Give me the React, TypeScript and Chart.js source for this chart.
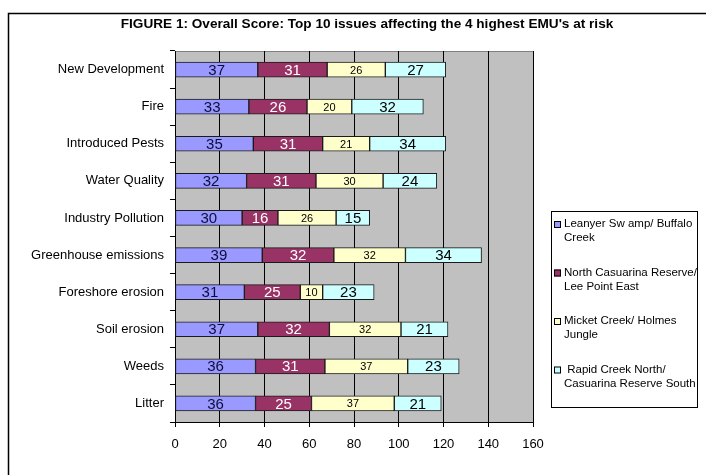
import React, { useEffect, useRef } from "react";
import { Chart, registerables } from "chart.js";

Chart.register(...registerables);

const TITLE = "FIGURE 1: Overall Score: Top 10 issues affecting the 4 highest EMU's at risk";

const categories = [
  "New Development",
  "Fire",
  "Introduced Pests",
  "Water Quality",
  "Industry Pollution",
  "Greenhouse emissions",
  "Foreshore erosion",
  "Soil erosion",
  "Weeds",
  "Litter",
];

const leanyer = [37, 33, 35, 32, 30, 39, 31, 37, 36, 36];
const northCasuarina = [31, 26, 31, 31, 16, 32, 25, 32, 31, 25];
const micket = [26, 20, 21, 30, 26, 32, 10, 32, 37, 37];
const rapidCreek = [27, 32, 34, 24, 15, 34, 23, 21, 23, 21];

const seriesLabels = [
  ["Leanyer Sw amp/ Buffalo", "Creek"],
  ["North Casuarina Reserve/", "Lee Point East"],
  ["Micket Creek/ Holmes", "Jungle"],
  [" Rapid Creek North/", "Casuarina Reserve South"],
];

const xTicks = [0, 20, 40, 60, 80, 100, 120, 140, 160];

const FONT = "'Liberation Sans', Arial, Helvetica, sans-serif";

const seriesColors = ["#9999FF", "#993366", "#FFFFCC", "#CCFFFF"];
const labelColors = ["#0d0d3a", "#ffffff", "#000000", "#000000"];
const labelSizes = [15, 15, 11, 15];

const framePlugin = {
  id: "frame",
  beforeDraw(chart: any) {
    const ctx = chart.ctx;
    const { left, top, right, bottom } = chart.chartArea;
    ctx.save();
    ctx.fillStyle = "#ffffff";
    ctx.fillRect(0, 0, chart.width, chart.height);
    ctx.strokeStyle = "#000000";
    ctx.lineWidth = 1.5;
    ctx.beginPath();
    ctx.moveTo(8.5, chart.height + 5);
    ctx.lineTo(8.5, 13.5);
    ctx.lineTo(chart.width + 5, 13.5);
    ctx.stroke();
    ctx.fillStyle = "#C0C0C0";
    ctx.fillRect(left, top, right - left, bottom - top);
    ctx.strokeStyle = "#808080";
    ctx.lineWidth = 1;
    ctx.strokeRect(left + 0.5, top + 0.5, right - left, bottom - top);
    // title
    ctx.fillStyle = "#000000";
    ctx.font = "bold 13.6px " + FONT;
    ctx.textAlign = "center";
    ctx.textBaseline = "middle";
    ctx.fillText(TITLE, 367, 24);
    ctx.restore();
  },
  afterDraw(chart: any) {
    const ctx = chart.ctx;
    ctx.save();
    // legend
    const bx = 551, by = 211, bw = 146, bh = 196;
    ctx.fillStyle = "#ffffff";
    ctx.fillRect(bx, by, bw, bh);
    ctx.strokeStyle = "#000000";
    ctx.lineWidth = 1;
    ctx.strokeRect(bx + 0.5, by + 0.5, bw, bh);
    ctx.font = "11.5px " + FONT;
    ctx.textAlign = "left";
    ctx.textBaseline = "middle";
    seriesLabels.forEach((lines, i) => {
      const y0 = 224 + i * 48.5;
      ctx.fillStyle = seriesColors[i];
      ctx.fillRect(554, y0 - 3, 7, 7);
      ctx.strokeStyle = "#000000";
      ctx.strokeRect(554.5, y0 - 2.5, 6, 6);
      ctx.fillStyle = "#000000";
      lines.forEach((t, k) => {
        ctx.fillText(t, 564, y0 + k * 14);
      });
    });
    ctx.restore();
  },
  afterDatasetsDraw(chart: any) {
    const ctx = chart.ctx;
    ctx.save();
    ctx.textAlign = "center";
    ctx.textBaseline = "middle";
    chart.data.datasets.forEach((ds: any, i: number) => {
      const meta = chart.getDatasetMeta(i);
      ctx.font = labelSizes[i] + "px " + FONT;
      ctx.fillStyle = labelColors[i];
      meta.data.forEach((bar: any, j: number) => {
        const p = bar.getProps(["x", "y", "base"], true);
        ctx.fillText(String(ds.data[j]), (p.x + p.base) / 2, p.y + 1);
      });
    });
    ctx.restore();
  },
};

export default function App() {
  const ref = useRef<HTMLCanvasElement>(null);
  useEffect(() => {
    if (!ref.current) return;
    const data = [leanyer, northCasuarina, micket, rapidCreek];
    const chart = new Chart(ref.current, {
      type: "bar",
      data: {
        labels: categories,
        datasets: data.map((d, i) => ({
          label: seriesLabels[i].join(" "),
          data: d,
          backgroundColor: seriesColors[i],
          borderColor: "#1a1a1a",
          borderWidth: 1,
          borderSkipped: false,
          barThickness: 15,
        })),
      },
      options: {
        indexAxis: "y",
        responsive: false,
        animation: false,
        devicePixelRatio: 1,
        layout: { padding: { top: 51, right: 173, left: 0, bottom: 0 } },
        plugins: {
          legend: { display: false },
          title: { display: false },
          tooltip: { enabled: false },
        },
        scales: {
          x: {
            type: "linear",
            stacked: true,
            min: 0,
            max: 160,
            afterBuildTicks: (scale: any) => {
              scale.ticks = xTicks.map((v) => ({ value: v }));
            },
            afterFit: (scale: any) => {
              scale.height = 53;
            },
            grid: {
              color: "#000000",
              lineWidth: 1,
              tickLength: 5,
              drawTicks: true,
            },
            border: { display: true, color: "#000000" },
            ticks: {
              color: "#000000",
              font: { family: FONT, size: 13 },
              padding: 10,
              maxRotation: 0,
            },
          },
          y: {
            type: "category",
            stacked: true,
            offset: true,
            afterFit: (scale: any) => {
              scale.width = 175;
            },
            grid: {
              offset: true,
              drawOnChartArea: false,
              color: "#000000",
              tickLength: 5,
            },
            border: { display: true, color: "#000000" },
            ticks: {
              color: "#000000",
              font: { family: FONT, size: 13 },
              padding: 6,
            },
          },
        },
      },
      plugins: [framePlugin],
    } as any);
    return () => chart.destroy();
  }, []);
  return (
    <div style={{ position: "absolute", left: 0, top: 0, width: 706, height: 475 }}>
      <canvas ref={ref} width={706} height={475} style={{ width: 706, height: 475 }} />
    </div>
  );
}
